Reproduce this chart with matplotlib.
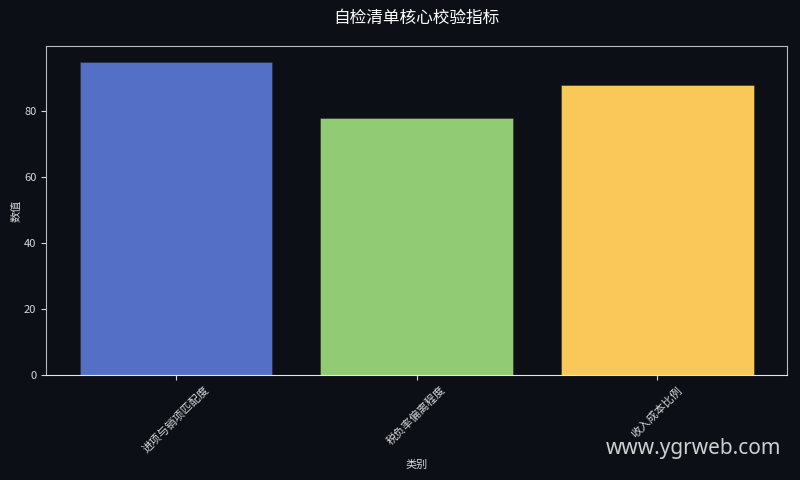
import matplotlib
matplotlib.use("Agg")
import matplotlib.pyplot as plt

plt.rcParams['font.family'] = ['Noto Sans CJK SC', 'DejaVu Sans']
plt.rcParams['axes.unicode_minus'] = False

categories = ['进项与销项匹配度', '税负率偏离程度', '收入成本比例']
values = [95, 78, 88]
colors = ['#5470c6', '#91cc75', '#fac858']

bg = '#0c0f16'
fg = '#d8d8d8'

fig, ax = plt.subplots(figsize=(8, 4.8), dpi=100)
fig.patch.set_facecolor(bg)
ax.set_facecolor(bg)
fig.subplots_adjust(left=0.0575, right=0.984, top=0.904, bottom=0.219)

ax.bar(categories, values, color=colors, edgecolor=(0.15, 0.15, 0.15, 0.6),
       linewidth=0.6, width=0.8)

ax.set_title('自检清单核心校验指标', color='white', fontsize=12, pad=17)
ax.set_xlabel('类别', color=fg, fontsize=8)
ax.set_ylabel('数值', color=fg, fontsize=8, labelpad=2)
ax.tick_params(axis='both', colors=fg, labelsize=8)
plt.setp(ax.get_xticklabels(), rotation=45)
for s in ax.spines.values():
    s.set_color('#bbbbbb')
ax.spines['bottom'].set_color('#e8e8e8')

fig.text(0.976, 0.065, 'www.ygrweb.com', color='#d0d0d0', fontsize=15,
         ha='right', va='center', family=['Noto Sans', 'DejaVu Sans'])

fig.savefig('out.png', facecolor=bg)
